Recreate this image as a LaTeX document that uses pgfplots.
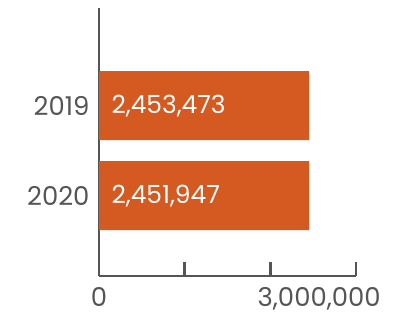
\documentclass[border=0pt]{standalone}
\usepackage{pgfplots}
\pgfplotsset{compat=1.18}
\usepackage{fontspec}
\setmainfont{Poppins}
\definecolor{barorange}{HTML}{D45A21}
\definecolor{axgray}{HTML}{555555}
\newcommand{\threemil}{3,000,000}
\begin{document}
\begin{tikzpicture}
\useasboundingbox (0,0) rectangle (394bp,316bp);
\begin{axis}[
  at={(99bp,40bp)}, anchor=south west,
  scale only axis, width=257bp, height=268bp,
  xbar, bar width=69bp,
  xmin=0, xmax=3000000,
  ymin=0.106, ymax=3.084,
  axis x line=bottom, axis y line=left,
  axis line style={axgray, line width=2.4bp, -},
  xtick={0,1000000,2000000,3000000},
  xticklabels={0,,,},
  extra x ticks={2570000},
  extra x tick labels={\threemil},
  extra x tick style={major tick length=0pt},
  x tick style={axgray, line width=2.4bp},
  tick align=inside,
  major tick length=14bp,
  ytick={1,2}, yticklabels={2020,2019},
  y tick style={draw=none},
  tick label style={font=\fontsize{26}{26}\selectfont, text=axgray},
  yticklabel style={xshift=-6bp},
  xticklabel style={yshift=-8bp},
  /pgf/number format/assume math mode=true,
  scaled x ticks=false,
  point meta=explicit symbolic,
  nodes near coords,
  visualization depends on={rawx \as \rawx},
  every node near coord/.append style={anchor=west, text=white,
     font=\fontsize{25}{25}\selectfont,
     shift={(axis direction cs:-\rawx,0)}, xshift=9bp, yshift=-1bp},
  clip=false,
]
\addplot[fill=barorange, draw=none] coordinates {
  (2451947,1) [{2,451,947}]
  (2453473,2) [{2,453,473}]
};
\end{axis}
\end{tikzpicture}
\end{document}
